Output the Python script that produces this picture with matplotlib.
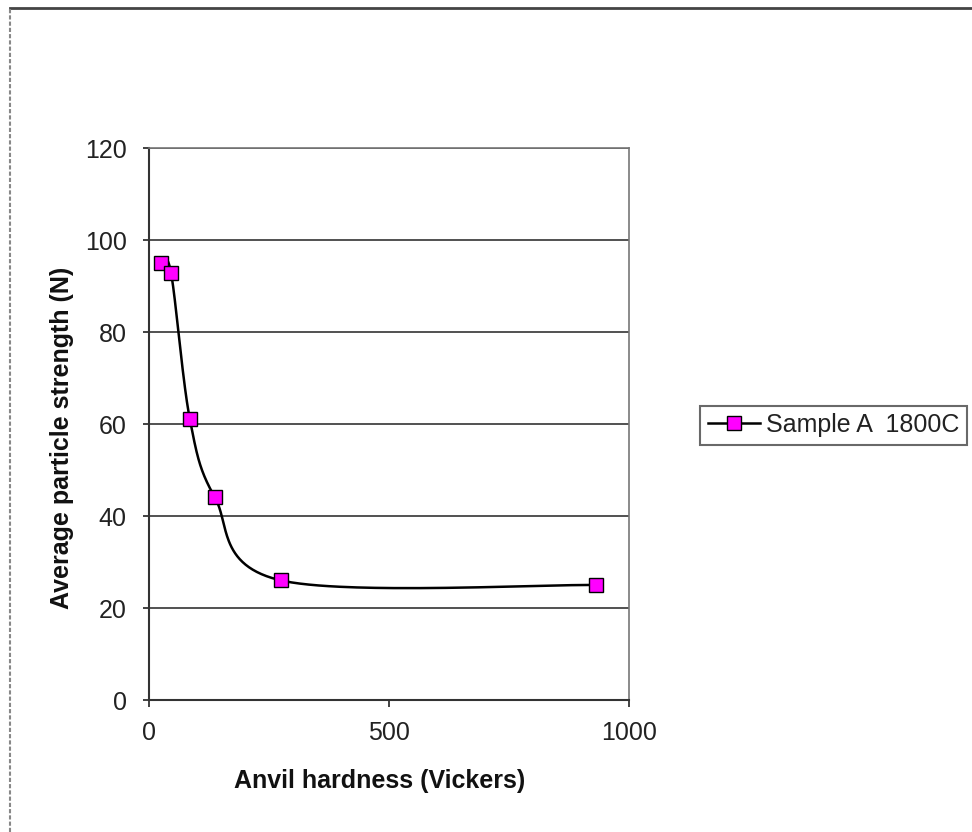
import numpy as np
import matplotlib
matplotlib.use("Agg")
from matplotlib import pyplot as plt
from matplotlib.lines import Line2D

plt.rcParams['font.family'] = ['Liberation Sans', 'DejaVu Sans']

# Data
hardness = [25, 46, 85, 137, 275, 931]
strength = [95, 92.8, 61.1, 44.1, 26, 25]
series_name = "Sample A  1800C"
x_label = "Anvil hardness (Vickers)"
y_label = "Average particle strength (N)"


def smooth_curve(xs, ys, sx, sy, n=60):
    # Excel-like smoothed line: cubic Bezier with Catmull-Rom control points,
    # worked out in screen-ish units so the axis scales don't distort it.
    p = np.column_stack([np.array(xs) * sx, np.array(ys) * sy])
    out = []
    for i in range(len(p) - 1):
        p0 = p[i - 1] if i > 0 else p[i]
        p1, p2 = p[i], p[i + 1]
        p3 = p[i + 2] if i + 2 < len(p) else p[i + 1]
        c1 = p1 + (p2 - p0) / 6.0
        c2 = p2 - (p3 - p1) / 6.0
        t = np.linspace(0, 1, n)[:, None]
        seg = ((1 - t) ** 3) * p1 + 3 * ((1 - t) ** 2) * t * c1 + 3 * (1 - t) * t ** 2 * c2 + t ** 3 * p2
        out.append(seg)
    pts = np.vstack(out)
    return pts[:, 0] / sx, pts[:, 1] / sy


fig = plt.figure(figsize=(9.72, 8.32), dpi=100)
ax = fig.add_axes([149 / 972, 132 / 832, 480 / 972, 552 / 832])

ax.set_xlim(0, 1000)
ax.set_ylim(0, 120)
ax.set_xticks([0, 500, 1000])
ax.set_yticks(range(0, 121, 20))
ax.yaxis.grid(True, color='#333333', linewidth=1.2)
ax.set_axisbelow(True)

for side in ['top', 'right']:
    ax.spines[side].set_color('#777777')
    ax.spines[side].set_linewidth(1.2)
for side in ['left', 'bottom']:
    ax.spines[side].set_color('#333333')
    ax.spines[side].set_linewidth(1.5)

ax.tick_params(axis='y', direction='out', length=4, width=1.3,
               color='#333333', labelsize=18, pad=12, labelcolor='#222222')
ax.tick_params(axis='x', direction='out', length=5, width=1.3,
               color='#333333', labelsize=18, pad=10, labelcolor='#222222')

sx_, sy_ = smooth_curve(hardness, strength, 0.48, 4.6)
ax.plot(sx_, sy_, color='black', linewidth=1.8, zorder=3)
ax.plot(hardness, strength, linestyle='none', marker='s', markersize=10.5,
        markerfacecolor='#FF00FF', markeredgecolor='black',
        markeredgewidth=1.0, zorder=4)

ax.set_xlabel(x_label, fontsize=18, fontweight='bold', color='#111111')
ax.set_ylabel(y_label, fontsize=18, fontweight='bold', color='#111111')
ax.xaxis.set_label_coords(0.48, -0.125)
ax.yaxis.set_label_coords(-0.157, 0.475)

# legend entry built by hand to mimic the Excel box
handle = Line2D([], [], color='black', linewidth=1.8, marker='s',
                markersize=10.5, markerfacecolor='#FF00FF',
                markeredgecolor='black', markeredgewidth=1.0)
leg = fig.legend([handle], [series_name], loc='center left',
                 bbox_to_anchor=(700 / 972, 1 - 425 / 832), borderaxespad=0,
                 fontsize=18, frameon=True, fancybox=False,
                 edgecolor='#444444', handlelength=2.1, handletextpad=0.25,
                 borderpad=0.3)
leg.get_frame().set_linewidth(1.5)
for txt in leg.get_texts():
    txt.set_color('#222222')

# outer chart border: solid top edge, dashed left edge
fig.add_artist(Line2D([10 / 972, 1.0], [1 - 8 / 832, 1 - 8 / 832],
                      transform=fig.transFigure, color='#444444',
                      linewidth=2))
fig.add_artist(Line2D([10 / 972, 10 / 972], [0, 1 - 8 / 832],
                      transform=fig.transFigure, color='#888888',
                      linewidth=1.5, linestyle=(0, (2, 1))))

fig.savefig('out.png', dpi=100)
